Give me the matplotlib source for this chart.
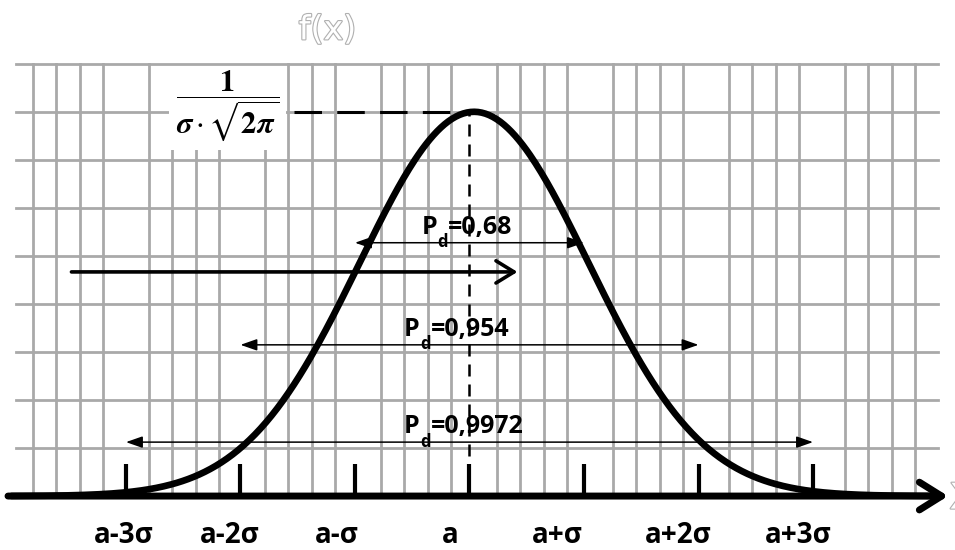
import numpy as np
import matplotlib
matplotlib.use('Agg')
from matplotlib import pyplot as plt
from matplotlib import patheffects as pe

# distribution (x measured in sigma units, a = 0)
a = 0.0
sigma = 1.0
curve_shift = 0.04

tick_pos = [-3, -2, -1, 0, 1, 2, 3]
tick_labels = ['a-3σ', 'a-2σ', 'a-σ', 'a', 'a+σ', 'a+2σ', 'a+3σ']
label_dx = [-0.02, -0.09, -0.16, -0.17, -0.23, -0.18, -0.13]

interval_k = [1, 2, 3]
interval_prob = ['0,68', '0,954', '0,9972']
interval_y = [0.263, 0.157, 0.056]
label_left = [-0.42, -0.57, -0.57]

peak = 1 / (sigma * np.sqrt(2 * np.pi))

fig = plt.figure(figsize=(9.55, 5.5), dpi=100)
ax = fig.add_axes([0, 0, 1, 1])
ax.set_xlim(-4.10, 4.24)
ax.set_ylim(-0.056, 0.515)
ax.axis('off')

# background grid (every 5th vertical line left out)
grid_col = '#a9a9a9'
for k in range(39):
    if k % 5 == 4:
        continue
    gx = -3.81 + 0.2026 * k
    ax.plot([gx, gx], [0, 9 * peak / 8], color=grid_col, lw=2, zorder=1)
for k in range(1, 10):
    # top line stays visible above the formula box
    ax.plot([-3.96, 4.09], [k * peak / 8] * 2, color=grid_col, lw=2,
            zorder=7 if k == 9 else 1)

# x axis with arrow
ax.annotate('', xy=(4.18, 0), xytext=(-4.03, 0),
            arrowprops=dict(arrowstyle='->,head_length=1.6,head_width=1.0',
                            lw=5, color='black', shrinkA=0, shrinkB=0),
            zorder=3)

# density curve
x = np.linspace(-4.0, 4.1, 500)
y = peak * np.exp(-(x - curve_shift) ** 2 / (2 * sigma ** 2))
ax.plot(x, y, color='black', lw=4.8, zorder=4, solid_capstyle='round')

# ticks + labels
for p, lab, dx in zip(tick_pos, tick_labels, label_dx):
    ax.plot([a + p * sigma] * 2, [0, 0.033], color='black', lw=3,
            solid_capstyle='butt', zorder=3)
    ax.text(a + p * sigma + dx, -0.0488, lab, ha='center', va='baseline',
            fontsize=20, fontweight='bold', family='Open Sans')

# peak marker lines
ax.plot([a, a], [0, peak], color='black', lw=1.8, dashes=(4.8, 3.2), zorder=5)
ax.plot([-1.53, -0.05], [peak, peak], color='black', lw=2.2, dashes=(9, 5), zorder=5)

ax.text(-2.11, 0.405,
        r'$\dfrac{\mathbf{1}}{\boldsymbol{\sigma}\cdot\sqrt{\mathbf{2}\boldsymbol{\pi}}}$',
        math_fontfamily='stix', fontsize=22, ha='center', va='center',
        bbox=dict(fc='white', ec='none', pad=5), zorder=6)

# big arrow
ax.annotate('', xy=(0.419, 0.2327), xytext=(-3.476, 0.2327),
            arrowprops=dict(arrowstyle='->,head_length=1.3,head_width=0.8',
                            lw=2.6, color='black', shrinkA=0, shrinkB=0),
            zorder=5)

# probability intervals
font = dict(fontsize=18, fontweight='bold', family='Open Sans', zorder=4)
for k, prob, yy, lx in zip(interval_k, interval_prob, interval_y, label_left):
    ax.annotate('', xy=(a + k * sigma, yy), xytext=(a - k * sigma, yy),
                arrowprops=dict(arrowstyle='<|-|>,head_length=1.0,head_width=0.35',
                                lw=1.1, color='black', shrinkA=0, shrinkB=0),
                zorder=5)
    t1 = ax.text(a + lx, yy + 0.009, 'P', ha='left', va='baseline', **font)
    t2 = ax.annotate('d', xy=(1, 0), xycoords=t1, xytext=(0.3, 5),
                     textcoords='offset points', ha='left', va='top',
                     fontsize=12, fontweight='bold', family='Open Sans', zorder=4)
    ax.annotate('=' + prob, xy=(1, 0), xycoords=(t2, t1), xytext=(0.3, 0),
                textcoords='offset points', ha='left', va='bottom', **font)

# axis names (outlined)
outline = [pe.withStroke(linewidth=1.6, foreground='#b0b0b0')]
ax.text(-1.24, 0.484, 'f(x)', ha='center', va='center', fontsize=24,
        family='DejaVu Sans', color='white', path_effects=outline)
ax.text(4.19, 0.0, 'x', ha='left', va='center', fontsize=34,
        family='DejaVu Sans', color='white', path_effects=outline)

fig.savefig('out.png', dpi=100)
